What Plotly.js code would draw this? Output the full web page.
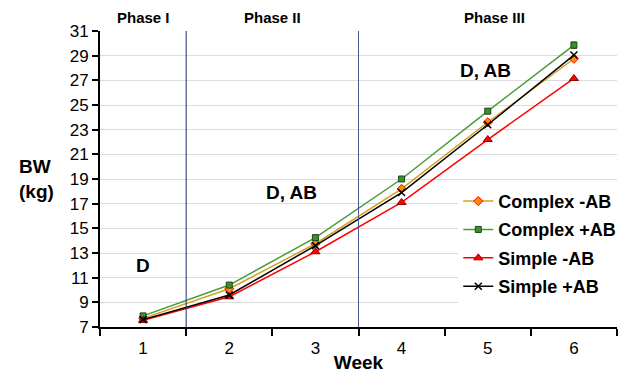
<!DOCTYPE html>
<html><head><meta charset="utf-8">
<script src="https://cdn.plot.ly/plotly-3.0.1.min.js"></script>
<style>body{margin:0;background:#fff}#chart{width:620px;height:373px}</style>
</head><body><div id="chart"></div>
<script>
const weeks = ["1","2","3","4","5","6"];
const complexMinusAB = [7.7, 10.1, 13.75, 18.2, 23.6, 28.75];
const complexPlusAB  = [7.9, 10.4, 14.25, 19.0, 24.5, 29.85];
const simpleMinusAB  = [7.55, 9.45, 13.1, 17.1, 22.2, 27.15];
const simplePlusAB   = [7.6, 9.6, 13.6, 17.9, 23.4, 29.05];
const complexPlusErr = [0.15, 0.15, 0.15, 0.2, 0.2, 0.25];
const phaseLabels = ["Phase I", "Phase II", "Phase III"];
const phaseCenters = [1, 2.5, 5.08];   // in week units
const phaseBounds = [1.5, 3.5];        // in week units
const letterLabels = ["D", "D, AB", "D, AB"];
const letterX = [1, 2.72, 4.97];       // in week units
const letterY = [12.0, 17.9, 27.8];

// category axis positions are 0-based indices: week w -> w - 1
const toCat = w => w - 1;

const traces = [
  {x: weeks, y: complexMinusAB, name: "Complex -AB", legendgroup: "a", mode: "lines+markers",
   line: {color: "#d4a020", width: 1.5},
   marker: {symbol: "diamond", size: 7, color: "#ff8c00", line: {color: "#ff0000", width: 1}}},
  {x: weeks, y: complexPlusAB, name: "Complex +AB", legendgroup: "b", mode: "lines+markers",
   line: {color: "#4a9a3a", width: 1.5},
   marker: {symbol: "square", size: 6, color: "#3e8e2e", line: {color: "#1e4a16", width: 1}},
   error_y: {type: "data", array: complexPlusErr, color: "#333", thickness: 1, width: 3}},
  {x: weeks, y: simpleMinusAB, name: "Simple -AB", legendgroup: "c", mode: "lines+markers",
   line: {color: "#ff0000", width: 1.5},
   marker: {symbol: "triangle-up", size: 8, color: "#ff0000", line: {color: "#990000", width: 1}}},
  {x: weeks, y: simplePlusAB, name: "Simple +AB", legendgroup: "d", mode: "lines+markers",
   line: {color: "#000000", width: 1.5},
   marker: {symbol: "x-thin", size: 7, color: "#000", line: {color: "#000", width: 1.5}}}
];

const annotations = [];
phaseLabels.forEach((t, i) => annotations.push({
  x: toCat(phaseCenters[i]), y: 1, xref: "x", yref: "paper", yanchor: "bottom", yshift: 3,
  text: "<b>" + t + "</b>", showarrow: false,
  font: {family: "Liberation Sans, Arial", size: 15, color: "#000"}}));
letterLabels.forEach((t, i) => annotations.push({
  x: toCat(letterX[i]), y: letterY[i], xref: "x", yref: "y",
  text: "<b>" + t + "</b>", showarrow: false,
  font: {family: "Liberation Sans, Arial", size: 19, color: "#000"}}));
annotations.push({x: -0.16, y: 0.5, xref: "paper", yref: "paper",
  text: "<b>BW<br>(kg)</b>", showarrow: false, align: "left",
  font: {family: "Liberation Sans, Arial", size: 19, color: "#000"}});

const shapes = phaseBounds.map((b, i) => ({
  type: "line", xref: "x", yref: "paper", x0: toCat(b), x1: toCat(b), y0: 0, y1: 1,
  line: {color: i === 0 ? "#1f2f6b" : "#4a5a8a", width: 1}}));

const layout = {
  width: 620, height: 373,
  margin: {l: 100, r: 3, t: 31, b: 46, autoexpand: false},
  paper_bgcolor: "#fff", plot_bgcolor: "#fff",
  font: {family: "Liberation Sans, Arial", color: "#000"},
  showlegend: true,
  legend: {x: 0.693, y: 0.487, xanchor: "left", yanchor: "top", bgcolor: "#fff",
    font: {family: "Liberation Sans, Arial", size: 18, color: "#000", weight: "bold"},
    tracegroupgap: 2, itemwidth: 30},
  xaxis: {type: "category", tickson: "boundaries", ticks: "outside", ticklen: 7,
    tickcolor: "#000", tickwidth: 2, showline: true, linecolor: "#000", linewidth: 2,
    showgrid: false, zeroline: false, range: [-0.5, 5.5], ticklabelstandoff: 5,
    tickfont: {size: 17, color: "#000"},
    title: {text: "<b>Week</b>", font: {size: 19, color: "#000"}, standoff: 5}},
  yaxis: {range: [7, 31], dtick: 2, tick0: 7, ticks: "outside", ticklen: 6,
    tickcolor: "#000", tickwidth: 2, showline: true, linecolor: "#000", linewidth: 2,
    showgrid: true, gridcolor: "#dcdcdc", gridwidth: 1, zeroline: false,
    tickfont: {size: 17, color: "#000"}},
  annotations: annotations,
  shapes: shapes
};
Plotly.newPlot("chart", traces, layout, {displayModeBar: false, staticPlot: true});
</script></body></html>
